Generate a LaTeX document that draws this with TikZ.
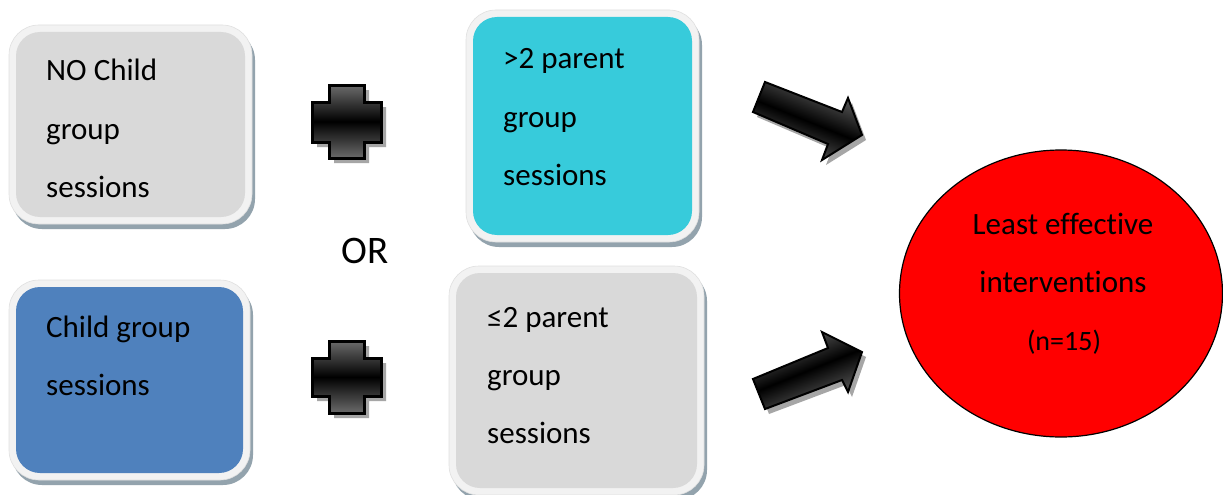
\documentclass[tikz,border=0pt]{standalone}
\usepackage{fontspec}
\setmainfont[Ligatures={NoCommon}]{Carlito}
\usetikzlibrary{shapes.geometric}

\definecolor{panelgray}{HTML}{D9D9D9}
\definecolor{panelcyan}{HTML}{37CBDB}
\definecolor{panelblue}{HTML}{4F81BD}
\definecolor{panelrim}{HTML}{F2F2F2}
\definecolor{panelshade}{HTML}{93A3AD}
\definecolor{dropshade}{HTML}{A6A6A6}

\tikzset{
  boxbase/.style={rectangle, inner sep=0pt, outer sep=0pt, anchor=north west},
  panelshadow/.style={boxbase, fill=panelshade, rounded corners=30pt},
  panelframe/.style={boxbase, fill=panelrim, draw=black!12, line width=0.6pt, rounded corners=30pt},
  panelfill/.style={boxbase, rounded corners=24pt},
  line/.style={anchor=base west, inner sep=0pt, font=\fontsize{31}{37}\selectfont},
  cline/.style={anchor=base, inner sep=0pt, font=\fontsize{31}{37}\selectfont},
  blockshade/.style={top color=black!58, bottom color=black!58, middle color=black},
  blockshadow/.style={fill=dropshade},
}

% rounded panel: name, left, top, right, bottom, fill colour
\newcommand\drawpanel[6]{%
  \node[panelshadow, minimum width=#4-#2+14, minimum height=#5-#3+14]
    (#1-shadow) at (#2-4,#3-2) {};
  \node[panelframe, minimum width=#4-#2+14, minimum height=#5-#3+14]
    (#1-frame) at (#2-7,#3-7) {};
  \node[panelfill, fill=#6, minimum width=#4-#2, minimum height=#5-#3]
    (#1) at (#2,#3) {};
}

% plus sign: top and bottom of the horizontal bar, top and bottom of the vertical bar
\newcommand\plussign[4]{%
  \fill[blockshadow, shift={(5,5)}]
    (329,#3) -- (364,#3) -- (364,#1) -- (381,#1) -- (381,#2) -- (364,#2)
    -- (364,#4) -- (329,#4) -- (329,#2) -- (312,#2) -- (312,#1) -- (329,#1) -- cycle;
  \draw[blockshade, line width=3pt, line join=miter]
    (329,#3) -- (364,#3) -- (364,#1) -- (381,#1) -- (381,#2) -- (364,#2)
    -- (364,#4) -- (329,#4) -- (329,#2) -- (312,#2) -- (312,#1) -- (329,#1) -- cycle;
}

\begin{document}
\begin{tikzpicture}[x=1pt, y=-1pt]
\useasboundingbox[fill=white] (0,0) rectangle (1223,495);

% the four condition panels
\drawpanel{nochild}{16}{32}{245}{217}{panelgray}
\drawpanel{parentmore}{473}{17}{692}{235}{panelcyan}
\drawpanel{child}{16}{287}{243}{473}{panelblue}
\drawpanel{parentless}{456}{273}{697}{488}{panelgray}

\node[line] (nochild-1) at (46,81)  {NO Child};
\node[line] (nochild-2) at (46,139) {group};
\node[line] (nochild-3) at (46,197) {sessions};

\node[line] (parentmore-1) at (503,69)  {>2 parent};
\node[line] (parentmore-2) at (503,127) {group};
\node[line] (parentmore-3) at (503,185) {sessions};

\node[line] (child-1) at (46,337) {Child group};
\node[line] (child-2) at (46,395) {sessions};

\node[line] (parentless-1) at (487,327) {≤2 parent};
\node[line] (parentless-2) at (487,385) {group};
\node[line] (parentless-3) at (487,443) {sessions};

\node[anchor=base west, inner sep=0pt, font=\fontsize{39}{45}\selectfont]
  (or) at (341,263) {OR};

% plus signs between the panels
\plussign{102}{142}{85}{158}
\plussign{358}{396}{341}{413}

% block arrows towards the outcome
\fill[blockshadow, shift={(4,5)}]
  (765,82) -- (842,112) -- (848,98) -- (862,135) -- (822,160) -- (828,144) -- (753,112) -- cycle;
\draw[blockshade, shading angle=-22, line width=2pt, line join=miter]
  (765,82) -- (842,112) -- (848,98) -- (862,135) -- (822,160) -- (828,144) -- (753,112) -- cycle;

\fill[blockshadow, shift={(4,5)}]
  (753,379) -- (828,348) -- (822,332) -- (862,352) -- (848,392) -- (842,380) -- (765,409) -- cycle;
\draw[blockshade, shading angle=22, line width=2pt, line join=miter]
  (753,379) -- (828,348) -- (822,332) -- (862,352) -- (848,392) -- (842,380) -- (765,409) -- cycle;

% outcome
\node[ellipse, draw=black, fill=red, line width=1.2pt, inner sep=0pt,
      minimum width=323, minimum height=287] (outcome) at (1061,293.5) {};
\node[cline] (outcome-1) at (1063,234) {Least effective};
\node[cline] (outcome-2) at (1063,292) {interventions};
\node[anchor=base, inner sep=0pt, font=\fontsize{28}{34}\selectfont]
  (outcome-3) at (1064,350) {(n=15)};
\end{tikzpicture}
\end{document}
